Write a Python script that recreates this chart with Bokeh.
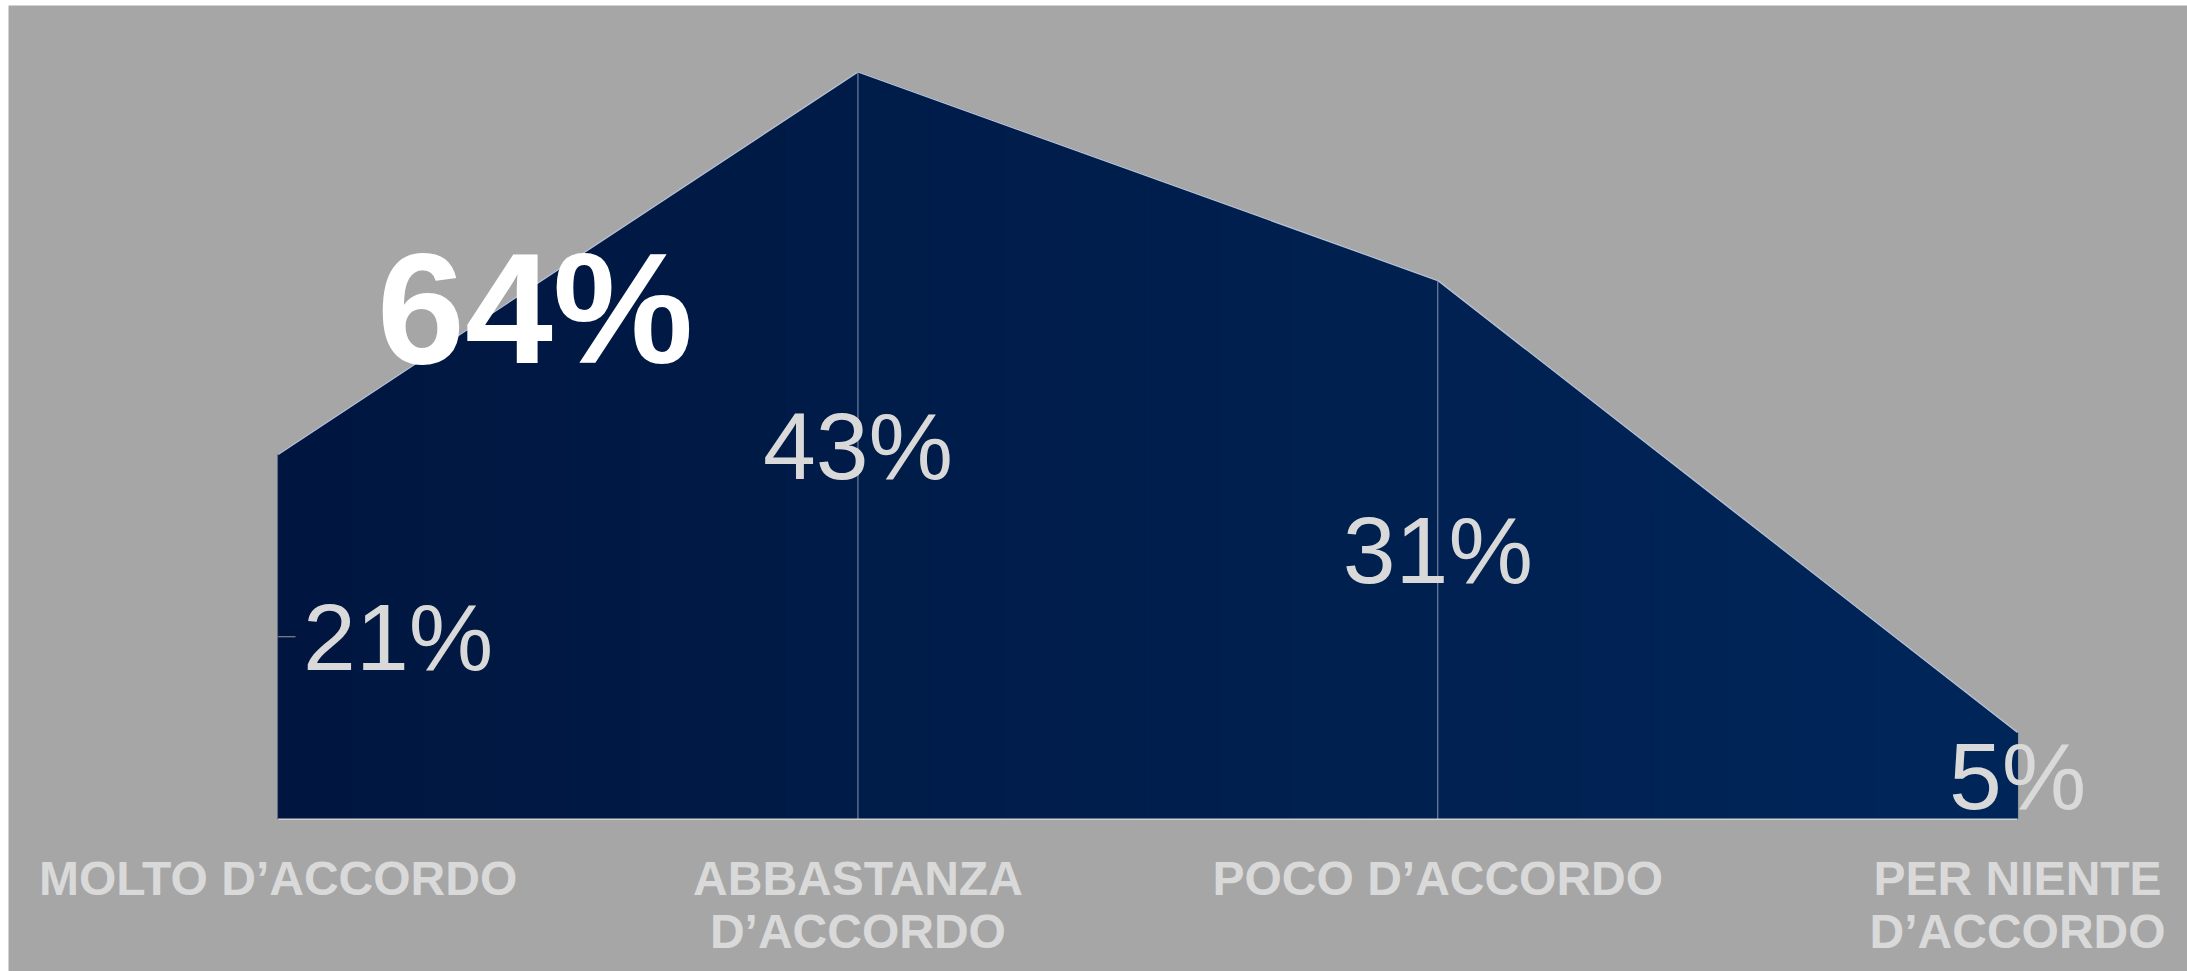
import numpy as np
from bokeh.plotting import figure
from bokeh.models import ColumnDataSource, Range1d
from bokeh.core.properties import value
from bokeh.embed import file_html
from bokeh.resources import INLINE

# ---- data ----
categories = ["MOLTO D’ACCORDO", "ABBASTANZA D’ACCORDO", "POCO D’ACCORDO", "PER NIENTE D’ACCORDO"]
label_line1 = ["MOLTO D’ACCORDO", "ABBASTANZA", "POCO D’ACCORDO", "PER NIENTE"]
label_line2 = ["", "D’ACCORDO", "", "D’ACCORDO"]
values = [21, 43, 31, 5]
value_labels = ["21%", "43%", "31%", "5%"]
highlight_value = values[0] + values[1]
highlight_label = f"{highlight_value}%"

FONT = "Liberation Sans"
BG = "#a6a6a6"
LABEL = "#d9d9d9"

xs = np.arange(len(values), dtype=float)
vals = np.array(values, dtype=float)

p = figure(width=2187, height=971,
           x_range=Range1d(-0.465, 3.293), y_range=Range1d(-8.76, 46.82),
           output_backend="svg", toolbar_location=None,
           x_axis_location=None, y_axis_location=None,
           min_border_left=8, min_border_top=5, min_border_right=0, min_border_bottom=0)
p.grid.visible = False
p.outline_line_color = None
p.background_fill_color = BG
p.border_fill_color = "#ffffff"

# ---- gradient-filled area (vertical bands) ----
def hex2rgb(h):
    h = h.lstrip("#")
    return np.array([int(h[i:i + 2], 16) for i in (0, 2, 4)], dtype=float)

c0, c1 = hex2rgb("#00163f"), hex2rgb("#00265a")
nb = 24
edges = np.linspace(xs[0], xs[-1], nb + 1)
band_xs, band_ys, band_cols = [], [], []
for i in range(nb):
    a, b = edges[i], edges[i + 1]
    ya, yb = np.interp(a, xs, vals), np.interp(b, xs, vals)
    band_xs.append([a, b, b, a])
    band_ys.append([0, 0, yb, ya])
    t = (a + b) / 2 / xs[-1]
    c = c0 + (c1 - c0) * t
    band_cols.append("#%02x%02x%02x" % tuple(int(round(v)) for v in c))
p.patches(band_xs, band_ys, fill_color=band_cols, line_color=band_cols, line_width=1)

# outline, drop lines and baseline
p.line(xs, vals, line_color="#b9c1d1", line_width=1.5)
p.segment(x0=xs[1:-1], y0=0, x1=xs[1:-1], y1=vals[1:-1], line_color="#8795b0", line_width=1)
p.line([xs[0], xs[-1]], [0, 0], line_color="#d0d0d0", line_width=1.5)

# leader line for first label
p.segment(x0=[xs[0]], y0=[vals[0] / 2], x1=[xs[0] + 0.03], y1=[vals[0] / 2],
          line_color="#9a9a9a", line_width=1)

# ---- value labels ----
src_mid = ColumnDataSource(dict(x=xs[1:], y=vals[1:] / 2, t=value_labels[1:]))
p.text(x="x", y="y", text="t", source=src_mid, text_align="center", text_baseline="alphabetic",
       y_offset=0, text_font=value(FONT), text_font_size="95px", text_color=LABEL)
p.text(x=[xs[0]], y=[vals[0] / 2], text=[value_labels[0]], text_align="left",
       text_baseline="alphabetic", x_offset=25, y_offset=0,
       text_font=value(FONT), text_font_size="95px", text_color=LABEL)

# highlighted total
p.text(x=[xs[0]], y=[vals[0]], text=[highlight_label], text_align="left",
       text_baseline="alphabetic", x_offset=99, y_offset=-146,
       text_font=value(FONT), text_font_style="bold", text_font_size="158px",
       text_color="#ffffff")

# ---- category labels ----
p.text(x=xs, y=np.zeros(len(xs)), text=label_line1, text_align="center",
       text_baseline="alphabetic", y_offset=59, text_font=value(FONT),
       text_font_style="bold", text_font_size="48px", text_color=LABEL)
p.text(x=xs, y=np.zeros(len(xs)), text=label_line2, text_align="center",
       text_baseline="alphabetic", y_offset=112, text_font=value(FONT),
       text_font_style="bold", text_font_size="48px", text_color=LABEL)

open("out.html", "w").write(file_html(p, INLINE))
